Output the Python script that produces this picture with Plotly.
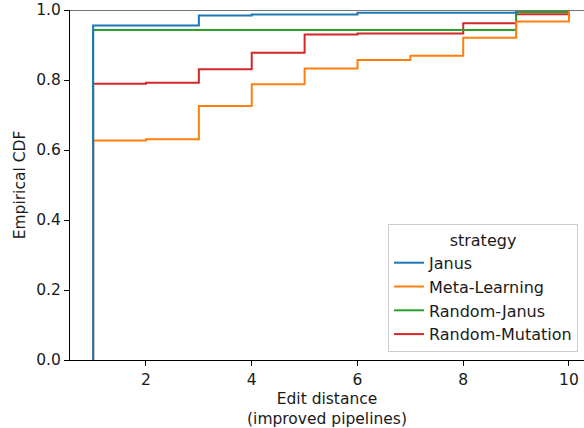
import plotly.graph_objects as go

# Step positions (edit distance) and empirical CDF levels after each step
janus_x = [1, 1, 3, 4, 6, 9]
janus_y = [0, 0.956, 0.984, 0.987, 0.992, 1.0]

meta_x = [1, 1, 2, 3, 4, 5, 6, 7, 8, 9, 10]
meta_y = [0, 0.627, 0.631, 0.726, 0.788, 0.833, 0.857, 0.869, 0.921, 0.967, 1.0]

rjanus_x = [1, 1, 9, 10]
rjanus_y = [0, 0.943, 0.994, 1.0]

rmut_x = [1, 1, 2, 3, 4, 5, 6, 8, 9, 10]
rmut_y = [0, 0.789, 0.792, 0.831, 0.878, 0.930, 0.933, 0.962, 0.988, 1.0]

names = ["Janus", "Meta-Learning", "Random-Janus", "Random-Mutation"]
colors = ["#1f77b4", "#ff7f0e", "#2ca02c", "#d62728"]
series = [(janus_x, janus_y), (meta_x, meta_y), (rjanus_x, rjanus_y), (rmut_x, rmut_y)]

x_ticks = [2, 4, 6, 8, 10]
y_ticks = [0.0, 0.2, 0.4, 0.6, 0.8, 1.0]

fig = go.Figure()
# draw in reverse so the first strategy sits on top
for i in reversed(range(len(names))):
    xs, ys = series[i]
    fig.add_trace(go.Scatter(
        x=xs, y=ys, mode="lines", name=names[i],
        line=dict(color=colors[i], width=2, shape="hv"),
        legendrank=i + 1,
    ))

fig.add_shape(type="line", xref="paper", yref="y", x0=0, x1=1, y0=1, y1=1,
              line=dict(color="#777777", width=2))

font = "DejaVu Sans"
fs = 15.5
lfs = 16
fig.update_layout(
    width=584, height=428,
    margin=dict(l=70, r=0, t=10, b=68),
    plot_bgcolor="white", paper_bgcolor="white",
    font=dict(family=font, size=fs, color="#1a1a1a"),
    showlegend=True,
    legend=dict(
        title=dict(text="strategy", side="top center", font=dict(size=lfs)),
        font=dict(size=lfs),
        x=(388 - 70) / 514, xanchor="left", y=(360 - 224) / 350, yanchor="top",
        bgcolor="rgba(255,255,255,0.8)", bordercolor="#cccccc", borderwidth=1,
        traceorder="normal",
    ),
    xaxis=dict(
        range=[0.563, 10.284], tickvals=x_ticks, ticktext=[str(v) for v in x_ticks],
        showgrid=False, zeroline=False, showline=True, linecolor="black", linewidth=1,
        ticks="outside", ticklen=5, tickcolor="black", tickfont=dict(size=fs),
        title=dict(text="Edit distance<br>(improved pipelines)", standoff=6,
                   font=dict(size=fs)),
    ),
    yaxis=dict(
        range=[0, 1], tickvals=y_ticks, ticktext=[f"{v:.1f}" for v in y_ticks],
        showgrid=False, zeroline=False, showline=True, linecolor="black", linewidth=1,
        ticks="outside", ticklen=5, tickcolor="black", tickfont=dict(size=fs),
        title=dict(text="Empirical CDF", standoff=6, font=dict(size=fs)),
    ),
)

fig.write_html("out.html")
